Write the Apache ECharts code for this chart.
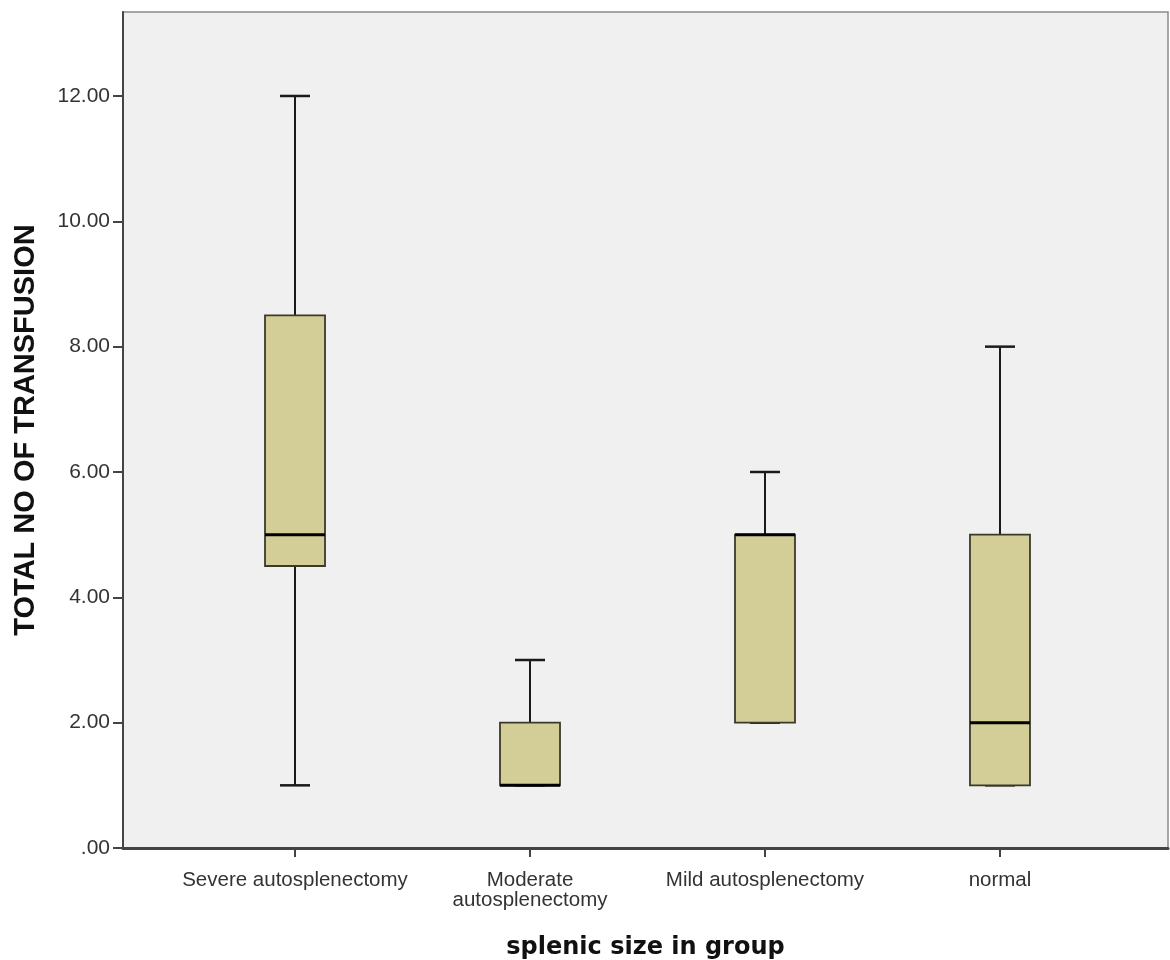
<!DOCTYPE html>
<html>
<head>
<meta charset="utf-8">
<script src="https://cdn.jsdelivr.net/npm/echarts@6/dist/echarts.min.js"></script>
<style>html,body{margin:0;padding:0;background:#fff}#c{width:1170px;height:960px}</style>
</head>
<body>
<div id="c"></div>
<script>
// Data
const categories = ['Severe autosplenectomy', 'Moderate\nautosplenectomy', 'Mild autosplenectomy', 'normal'];
const positions = [1, 2, 3, 4];
const mins    = [1, 1, 2, 1];
const q1s     = [4.5, 1, 2, 1];
const medians = [5, 1, 5, 2];
const q3s     = [8.5, 2, 5, 5];
const maxs    = [12, 3, 6, 8];
const yTicks  = [0, 2, 4, 6, 8, 10, 12];

const boxData = positions.map((p, i) => [p, mins[i], q1s[i], medians[i], q3s[i], maxs[i]]);

const chart = echarts.init(document.getElementById('c'), null, {renderer: 'canvas'});
const BOX_W = 60, CAP_W = 30;

chart.setOption({
  backgroundColor: '#ffffff',
  animation: false,
  grid: {left: 123, right: 2, top: 12, bottom: 112, show: true, containLabel: false, outerBoundsMode: 'none',
         backgroundColor: '#f0f0f0', borderColor: '#8a8a8a', borderWidth: 1.5},
  xAxis: {
    type: 'value', min: 0.268, max: 4.715,
    name: 'splenic size in group', nameLocation: 'middle', nameGap: 88,
    nameTextStyle: {fontFamily: 'DejaVu Sans', fontWeight: 'bold', fontSize: 24, color: '#111'},
    splitLine: {show: false},
    axisLine: {show: true, lineStyle: {color: '#444', width: 3}},
    axisTick: {show: true, customValues: positions, length: 9, lineStyle: {color: '#444', width: 2}},
    axisLabel: {customValues: positions, margin: 22, fontFamily: 'Liberation Sans', fontSize: 20.5,
      color: '#333', lineHeight: 20,
      formatter: v => categories[positions.indexOf(Math.round(v))] || ''}
  },
  yAxis: {
    type: 'value', min: 0, max: 13.34,
    name: 'TOTAL NO OF TRANSFUSION', nameLocation: 'middle', nameGap: 83,
    nameTextStyle: {fontFamily: 'Liberation Sans', fontWeight: 'bold', fontSize: 29, color: '#111'},
    splitLine: {show: false},
    axisLine: {show: true, lineStyle: {color: '#444', width: 2}},
    axisTick: {show: true, customValues: yTicks, length: 10, lineStyle: {color: '#444', width: 2}},
    axisLabel: {customValues: yTicks, margin: 13, fontFamily: 'Liberation Sans', fontSize: 21, color: '#333',
      formatter: v => v === 0 ? '.00' : v.toFixed(2)}
  },
  series: [{
    type: 'custom',
    data: boxData,
    encode: {x: 0, y: [1, 2, 3, 4, 5]},
    renderItem: function (params, api) {
      const x = api.value(0);
      const pMin = api.coord([x, api.value(1)]);
      const pQ1 = api.coord([x, api.value(2)]);
      const pMed = api.coord([x, api.value(3)]);
      const pQ3 = api.coord([x, api.value(4)]);
      const pMax = api.coord([x, api.value(5)]);
      const cx = pQ1[0];
      const lineStyle = {stroke: '#1a1a1a', lineWidth: 2};
      return {
        type: 'group',
        children: [
          {type: 'line', shape: {x1: cx, y1: pQ3[1], x2: cx, y2: pMax[1]}, style: lineStyle},
          {type: 'line', shape: {x1: cx, y1: pQ1[1], x2: cx, y2: pMin[1]}, style: lineStyle},
          {type: 'line', shape: {x1: cx - CAP_W / 2, y1: pMax[1], x2: cx + CAP_W / 2, y2: pMax[1]}, style: {stroke: '#1a1a1a', lineWidth: 2.5}},
          {type: 'line', shape: {x1: cx - CAP_W / 2, y1: pMin[1], x2: cx + CAP_W / 2, y2: pMin[1]}, style: {stroke: '#1a1a1a', lineWidth: 2.5}},
          {type: 'rect', shape: {x: cx - BOX_W / 2, y: pQ3[1], width: BOX_W, height: pQ1[1] - pQ3[1]},
            style: {fill: '#d3ce97', stroke: '#3a3a2a', lineWidth: 1.8}},
          {type: 'line', shape: {x1: cx - BOX_W / 2, y1: pMed[1], x2: cx + BOX_W / 2, y2: pMed[1]},
            style: {stroke: '#000', lineWidth: 3}}
        ]
      };
    }
  }]
});
</script>
</body>
</html>
